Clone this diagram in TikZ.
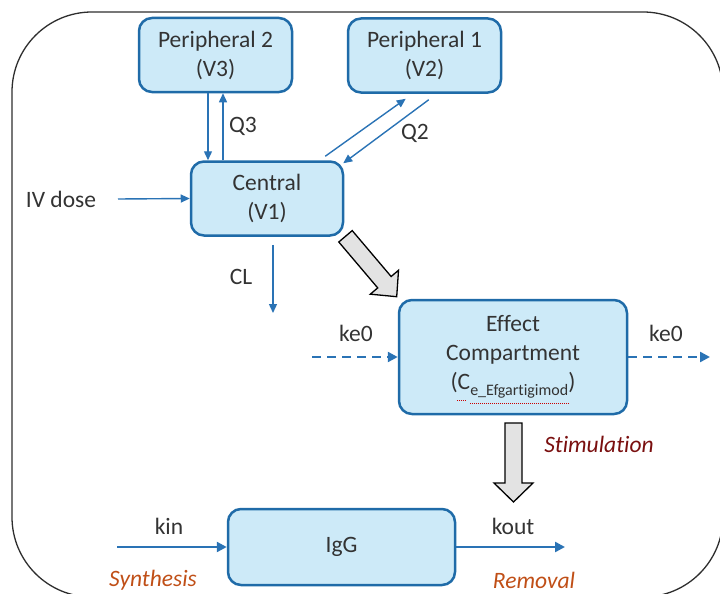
\documentclass[tikz,border=0pt]{standalone}
\usepackage{fontspec}
\setmainfont{Carlito}[Ligatures=NoCommon]
\usetikzlibrary{arrows.meta,calc}
\definecolor{boxfill}{HTML}{CDEAF8}
\definecolor{boxdraw}{HTML}{1F6BA8}
\definecolor{arr}{HTML}{2A73B5}
\definecolor{txt}{HTML}{333333}
\definecolor{stim}{HTML}{7A0F0F}
\definecolor{syn}{HTML}{C04F17}
\definecolor{framecol}{HTML}{2E2E2E}
\begin{document}
\begin{tikzpicture}[x=1pt,y=-1pt,
 comp/.style={draw=boxdraw, fill=boxfill, line width=2.5pt, rounded corners=13pt, align=center, text=txt, font=\fontsize{23.5}{29}\selectfont, inner sep=0pt},
 lbl/.style={text=txt, font=\fontsize{23.5}{28}\selectfont, inner sep=0pt},
 lblit/.style={font=\fontsize{23.5}{28}\selectfont\itshape, inner sep=0pt},
 thinarr/.style={draw=arr, line width=1.4pt, -{Triangle[length=9pt,width=8pt]}},
 thickarr/.style={draw=arr, line width=2.4pt, -{Triangle[length=10pt,width=10pt]}},
 dsharr/.style={thickarr, dash pattern=on 9pt off 6pt},
 blk/.style={draw=black, fill=gray!22, line width=1.3pt, line join=miter}
]
\useasboundingbox (0,0) rectangle (720,594);
\begin{scope}
\clip (0,0) rectangle (720,594);
\draw[framecol, line width=1.3pt, rounded corners=80pt] (12,12) rectangle (723,597);
\end{scope}

% compartments
\node[comp, minimum width=153pt, minimum height=74pt] (P2) at (215.5,55) {Peripheral 2\\(V3)};
\node[comp, minimum width=153pt, minimum height=74pt] (P1) at (424.5,55.5) {Peripheral 1\\(V2)};
\node[comp, minimum width=152pt, minimum height=74pt] (C) at (267,198.5) {Central\\(V1)};
\node[comp, minimum width=228pt, minimum height=114pt] (E) at (513,357)
  {Effect\\Compartment\\(C\raisebox{-0.5ex}{\fontsize{16}{16}\selectfont e\_Efgartigimod})};
\node[comp, minimum width=227pt, minimum height=76pt] (I) at (341.5,547) {IgG};

% spell-check underlines
\draw[red!80!black, line width=0.7pt, dash pattern=on 1pt off 1pt] (457,400) -- (467,400);
\draw[red!80!black, line width=0.7pt, dash pattern=on 1pt off 1pt] (470,403) -- (569,403);

% labels
\node[lbl] (ivl) at (61,199) {IV dose};
\node[lbl] (q3) at (243,126) {Q3};
\node[lbl] (q2) at (415,133) {Q2};
\node[lbl] (cl) at (241,277) {CL};
\node[lbl] (k1) at (356,333) {ke0};
\node[lbl] (k2) at (666,333) {ke0};
\node[lbl] (kin) at (169,526) {kin};
\node[lbl] (kout) at (513,526) {kout};
\node[lblit, text=stim] (stl) at (599,444) {Stimulation};
\node[lblit, text=syn] (syl) at (153,580) {Synthesis};
\node[lblit, text=syn] (rml) at (534,580) {Removal};

% free ends
\coordinate (ivs) at (118,199);
\coordinate (cle) at (273,313);
\coordinate (kls) at (312,357);
\coordinate (kre) at (710,357);
\coordinate (kins) at (117,547);
\coordinate (koute) at (565,547);

% connectors
\draw[thinarr] ([xshift=-7.5pt]P2.south) -- ([xshift=-7.5pt]P2.south |- C.north);
\draw[thinarr] ([xshift=7.5pt]P2.south |- C.north) -- ([xshift=7.5pt]P2.south);
\draw[thinarr] ([shift={(-19,-4)}]C.north east) -- ([shift={(59,5)}]P1.south west);
\draw[thinarr] ([shift={(82,6)}]P1.south west) -- ([shift={(-1,3)}]C.north east);
\draw[thinarr] (ivs) -- (C.west);
\draw[thinarr] ([shift={(6,8)}]C.south) -- (cle);
\draw[dsharr] (kls) -- (E.west);
\draw[dsharr] (E.east) -- (kre);
\draw[thickarr] (kins) -- (I.west);
\draw[thickarr] (I.east) -- (koute);

% block arrow Central -> Effect
\coordinate (ba) at (345.5,236.3);
\coordinate (bb) at (396.7,296.7);
\coordinate (bh) at ($(bb)!19pt!(ba)$);
\draw[blk] ($(ba)!8.8pt!90:(bb)$) -- ($(bh)!8.8pt!-90:(ba)$) -- ($(bh)!18.5pt!-90:(ba)$) -- (bb)
  -- ($(bh)!18.5pt!90:(ba)$) -- ($(bh)!8.8pt!90:(ba)$) -- ($(ba)!8.8pt!-90:(bb)$) -- cycle;

% block arrow Effect -> IgG
\draw[blk] (505,423) -- (522,423) -- (522,483) -- (533,483) -- (513.5,502) -- (494,483) -- (505,483) -- cycle;
\end{tikzpicture}
\end{document}
